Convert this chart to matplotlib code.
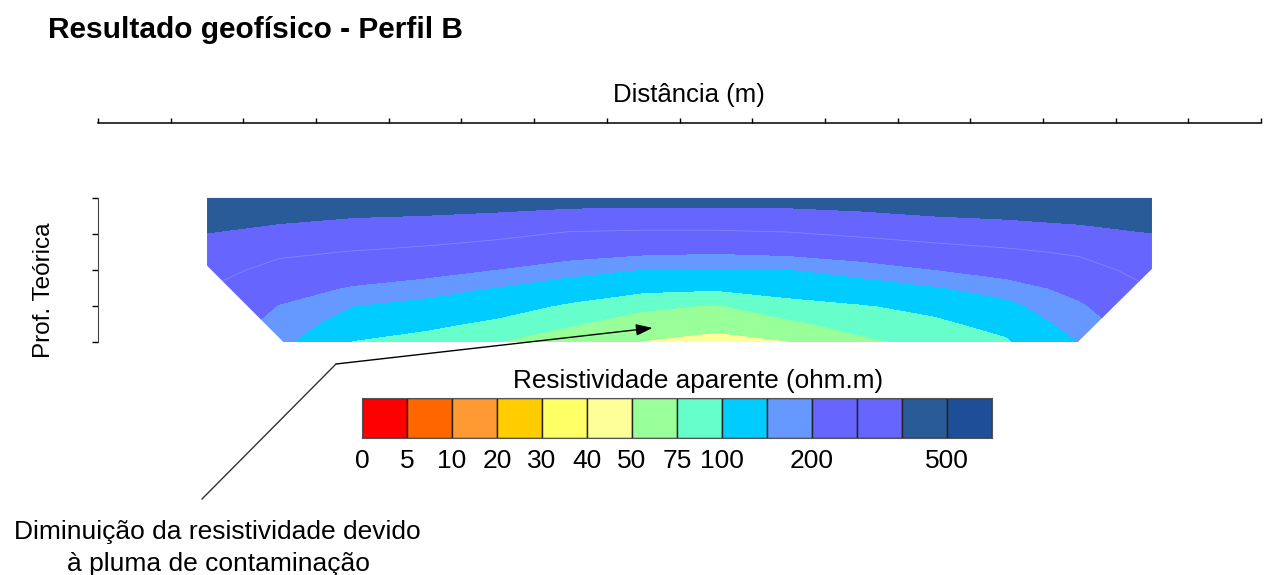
import numpy as np
import matplotlib.pyplot as plt
from matplotlib.patches import Polygon

plt.rcParams['font.family'] = ['Liberation Sans', 'DejaVu Sans']

# resistivity classes (ohm.m) and colours of the scale
levels = [0, 5, 10, 20, 30, 40, 50, 75, 100, 150, 200, 300, 400, 500, 1000]
level_labels = ['0', '5', '10', '20', '30', '40', '50', '75', '100', '', '200', '', '', '500', '']
colors = ['#FF0000', '#FF6600', '#FF9933', '#FFCC00', '#FFFF66', '#FFFF99', '#99FF99',
          '#66FFCC', '#00CCFF', '#6699FF', '#6666FF', '#6666FF', '#295B99', '#1F4E99']

# pseudo-section grid: distance (m) x theoretical depth level
dist = [1.5, 2.5, 3.5, 4.5, 5.5, 6.5, 7.5, 8.5, 9.5, 10.5, 11.5, 12.5, 13.5, 14.5]
depth = [0, 0.5, 1, 1.5, 2, 2.5, 3, 3.5, 4]
# apparent resistivity, one row per depth level
rho = np.array([
    [470, 465, 460, 455, 450, 445, 440, 440, 440, 445, 450, 455, 465, 470],
    [434, 421, 405, 398, 386, 366, 361, 362, 367, 383, 400, 411, 423, 434],
    [398, 371, 351, 339, 320, 290, 284, 284, 292, 314, 333, 350, 373, 398],
    [365, 316, 297, 281, 257, 227, 210, 205, 213, 235, 266, 286, 312, 365],
    [333, 272, 244, 224, 197, 166, 148, 144, 148, 167, 198, 227, 265, 333],
    [300, 232, 193, 170, 147, 124, 107, 104, 113, 127, 145, 171, 222, 300],
    [271, 196, 150, 134, 116, 94, 80, 73, 89, 97, 110, 136, 190, 271],
    [241, 179, 124, 108, 92, 77, 63, 56, 70, 84, 92, 112, 170, 241],
    [212, 161, 98, 86, 75, 62, 49, 43, 49, 70, 82, 95, 150, 212],
])
# outline of the measured area
section_x = [1.5, 14.5, 14.5, 13.48, 2.55, 1.5]
section_depth = [0, 0, 1.97, 4, 4, 1.88]

fig = plt.figure(figsize=(12.66, 5.75), dpi=100)
W, H = 1266, 575

ax = fig.add_axes([98 / W, (H - 342) / H, 1163 / W, 219 / H])
X, D = np.meshgrid(dist, depth)
cs = ax.contourf(X, D, rho, levels=levels, colors=colors)
clip = Polygon(list(zip(section_x, section_depth)), closed=True, transform=ax.transData)
cs.set_clip_path(clip)
cl = ax.contour(X, D, rho, levels=[300], colors='#8585ff', linewidths=0.6)
cl.set_clip_path(clip)

ax.set_xlim(0, 16)
ax.set_ylim(4, -2.08)
ax.spines['bottom'].set_visible(False)
ax.spines['right'].set_visible(False)
ax.spines['left'].set_bounds(0, 4)
ax.spines['left'].set_color('#444444')
ax.spines['top'].set_linewidth(1.1)
ax.xaxis.tick_top()
ax.set_xticks(np.arange(0, 17))
ax.set_yticks(np.arange(0, 5))
ax.tick_params(axis='x', direction='out', length=3.5, width=1, labeltop=False, labelbottom=False)
ax.tick_params(axis='y', direction='out', length=4, width=1, labelleft=False)

fig.text(48 / W, (H - 38) / H, 'Resultado geofísico - Perfil B',
         fontsize=21.5, fontweight='bold', va='baseline', ha='left')
fig.text(689 / W, (H - 102) / H, 'Distância (m)', fontsize=18.5, ha='center', va='baseline')
fig.text(44 / W, (H - 290) / H, 'Prof. Teórica', fontsize=17.5, rotation=90, ha='center', va='center')

# colour scale
cax = fig.add_axes([362 / W, (H - 438) / H, 630 / W, 40 / H])
idx = np.arange(len(colors))
cax.bar(idx, 1, width=1, align='edge', color=colors, edgecolor='#222222', linewidth=1)
cax.set_xlim(0, len(colors))
cax.set_ylim(0, 1)
cax.set_yticks([])
cax.set_xticks(np.arange(len(levels)))
cax.set_xticklabels(level_labels, fontsize=19)
cax.tick_params(axis='x', length=0, pad=8)
for s in cax.spines.values():
    s.set_color('#555555')
fig.text(698 / W, (H - 388) / H, 'Resistividade aparente (ohm.m)', fontsize=18.8,
         ha='center', va='baseline')

# annotation of the low resistivity plume
fig.add_artist(plt.Line2D([202 / W, 336 / W], [(H - 499) / H, (H - 364) / H],
                          color='#333333', linewidth=1))
ax.annotate('', xy=(7.63, 3.61), xycoords='data',
            xytext=(336 / W, (H - 364) / H), textcoords='figure fraction',
            arrowprops=dict(arrowstyle='-|>,head_length=1.0,head_width=0.35',
                            color='black', lw=1, shrinkA=0, shrinkB=0),
            annotation_clip=False)
fig.text(217 / W, (H - 539) / H, 'Diminuição da resistividade devido', fontsize=19,
         ha='center', va='baseline')
fig.text(218 / W, (H - 571) / H, 'à pluma de contaminação', fontsize=19,
         ha='center', va='baseline')

plt.savefig('out.png', dpi=100)
